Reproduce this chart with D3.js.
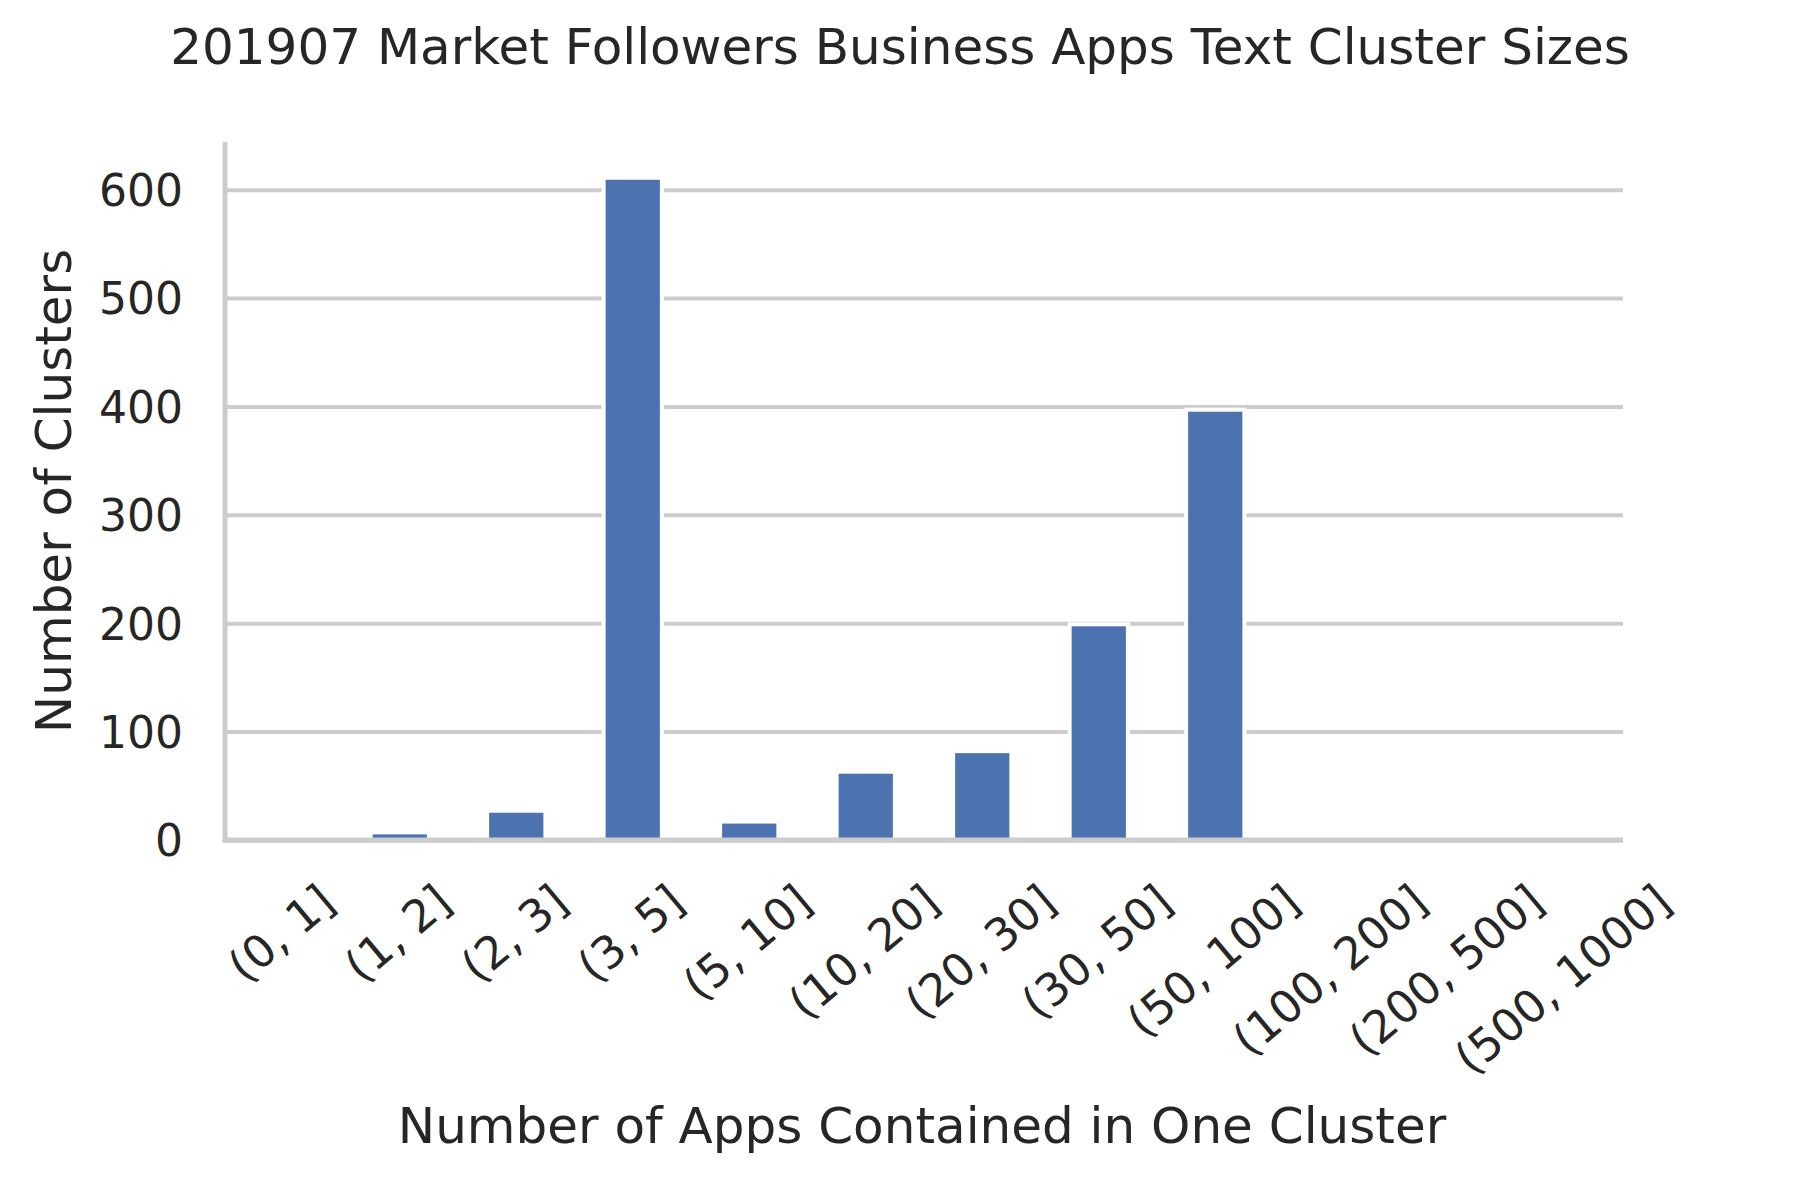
<!DOCTYPE html>
<html>
<head>
<meta charset="utf-8">
<script src="https://cdn.jsdelivr.net/npm/d3@7"></script>
<style>
  html, body { margin: 0; padding: 0; background: #ffffff; }
  svg text { font-family: "DejaVu Sans", sans-serif; fill: #262626; }
</style>
</head>
<body>
<svg id="chart" width="1800" height="1200"></svg>
<script>
// ---- data ----
const categories = ["(0, 1]", "(1, 2]", "(2, 3]", "(3, 5]", "(5, 10]", "(10, 20]",
                    "(20, 30]", "(30, 50]", "(50, 100]", "(100, 200]", "(200, 500]", "(500, 1000]"];
const clusterCounts = [0, 7, 27, 611, 17, 63, 82, 199, 397, 0, 0, 0];
const yTickValues = [0, 100, 200, 300, 400, 500, 600];
const titleText = "201907 Market Followers Business Apps Text Cluster Sizes";
const xLabelText = "Number of Apps Contained in One Cluster";
const yLabelText = "Number of Clusters";

// ---- layout ----
const svg = d3.select("#chart");
const plot = { left: 225, right: 1623, top: 142, bottom: 840 };
const gridColor = "#cccccc";
const barColor = "#4c72b0";

const x = d3.scaleBand()
  .domain(categories)
  .range([plot.left, plot.right])
  .paddingInner(0.5)
  .paddingOuter(0.25);

const y = d3.scaleLinear()
  .domain([0, d3.max(clusterCounts) * 1.054])
  .range([plot.bottom, plot.top]);

// grid
const yAxisGrid = d3.axisLeft(y).tickValues(yTickValues)
  .tickSize(-(plot.right - plot.left)).tickFormat("");
const gridG = svg.append("g")
  .attr("transform", `translate(${plot.left},0)`)
  .call(yAxisGrid);
gridG.select(".domain").remove();
gridG.selectAll(".tick line").attr("stroke", gridColor).attr("stroke-width", 4);

// bars
svg.append("g").selectAll("rect")
  .data(categories.map((c, i) => ({ c, v: clusterCounts[i] })))
  .join("rect")
  .attr("x", d => x(d.c))
  .attr("width", x.bandwidth())
  .attr("y", d => y(d.v))
  .attr("height", d => y(0) - y(d.v))
  .attr("fill", barColor)
  .attr("stroke", "#ffffff")
  .attr("stroke-width", 4);

// y axis tick labels
const yAxis = d3.axisLeft(y).tickValues(yTickValues).tickSize(0).tickPadding(0);
const yG = svg.append("g").attr("transform", `translate(${plot.left},0)`).call(yAxis);
yG.select(".domain").remove();
yG.selectAll(".tick text")
  .attr("x", -42)
  .attr("dy", "0.36em")
  .style("font-size", "44px")
  .style("font-family", "'DejaVu Sans', sans-serif")
  .attr("fill", "#262626");

// x axis tick labels (rotated)
const xAxis = d3.axisBottom(x).tickSize(0).tickPadding(0);
const xG = svg.append("g").attr("transform", `translate(0,${plot.bottom})`).call(xAxis);
xG.select(".domain").remove();
const angle = 40;
const rad = angle * Math.PI / 180;
const xFont = 45;
const labelTop = 39;  // top of rotated bounding box below axis
xG.selectAll(".tick text")
  .style("font-size", xFont + "px")
  .style("font-family", "'DejaVu Sans', sans-serif")
  .attr("fill", "#262626")
  .attr("text-anchor", "middle")
  .attr("y", 0)
  .attr("dy", null)
  .each(function () {
    const t = d3.select(this);
    const w = this.getComputedTextLength();
    const h = xFont * 0.9;
    const H = w * Math.sin(rad) + h * Math.cos(rad);
    const cy = labelTop + H / 2;
    t.attr("transform", `translate(-2,${cy}) rotate(${-angle})`)
     .attr("dominant-baseline", "central");
  });

// spines
svg.append("line")
  .attr("x1", plot.left).attr("x2", plot.left)
  .attr("y1", plot.top).attr("y2", plot.bottom + 2.5)
  .attr("stroke", gridColor).attr("stroke-width", 5);
svg.append("line")
  .attr("x1", plot.left - 2.5).attr("x2", plot.right)
  .attr("y1", plot.bottom).attr("y2", plot.bottom)
  .attr("stroke", gridColor).attr("stroke-width", 5);

// title
svg.append("text")
  .attr("x", 900).attr("y", 64)
  .attr("text-anchor", "middle")
  .style("font-size", "50px")
  .text(titleText);

// x label
svg.append("text")
  .attr("x", (plot.left + plot.right) / 2 - 2).attr("y", 1143)
  .attr("text-anchor", "middle")
  .style("font-size", "50px")
  .text(xLabelText);

// y label
svg.append("text")
  .attr("transform", `translate(71,${(plot.top + plot.bottom) / 2}) rotate(-90)`)
  .attr("text-anchor", "middle")
  .style("font-size", "50px")
  .text(yLabelText);
</script>
</body>
</html>
